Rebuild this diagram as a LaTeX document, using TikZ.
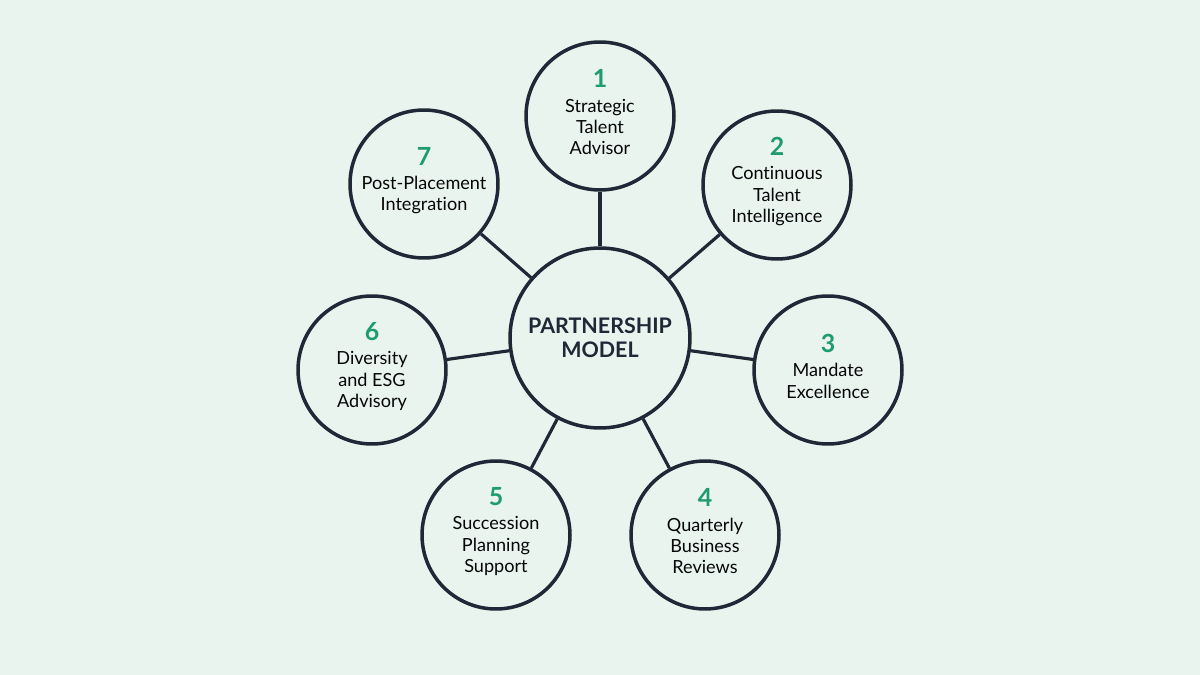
\documentclass[tikz,border=0pt]{standalone}
\usepackage{fontspec}
\setmainfont{Lato}[Ligatures={NoCommon,TeX}]
\definecolor{mint}{RGB}{233,244,239}
\definecolor{ink}{RGB}{30,40,54}
\definecolor{leaf}{RGB}{30,156,110}
\newcommand{\stepnum}[1]{{\fontsize{14.2}{14.2}\selectfont\bfseries\color{leaf}#1}\\[1.6pt]}
\tikzset{
  hub/.style={circle,draw=ink,line width=2pt,fill=mint,minimum size=3.6cm,inner sep=0pt,
    font=\fontsize{12.2}{13.7}\selectfont\bfseries,text=ink,align=center},
  spoke/.style={circle,draw=ink,line width=2pt,fill=mint,minimum size=2.96cm,inner sep=0pt},
  steptext/.style={font=\fontsize{10.3}{12.2}\selectfont,text=black!85!ink,align=center,
    inner sep=0pt,yshift=2pt},
  link/.style={draw=ink,line width=1.8pt}
}
\begin{document}
\begin{tikzpicture}[x=0.02cm,y=-0.02cm]
  \fill[mint] (0,0) rectangle (1200,675);
  \useasboundingbox (0,0) rectangle (1200,675);
  % centre and the seven spokes
  \node[hub] (pm) at (600,338) {PARTNERSHIP\\MODEL};
  \node[spoke,label={[steptext]center:\stepnum{1}Strategic\\Talent\\Advisor}] (s1) at (600,116) {};
  \node[spoke,label={[steptext]center:\stepnum{2}Continuous\\Talent\\Intelligence}] (s2) at (777,185) {};
  \node[spoke,label={[steptext]center:\stepnum{3}Mandate\\Excellence}] (s3) at (828,370) {};
  \node[spoke,label={[steptext]center:\stepnum{4}Quarterly\\Business\\Reviews}] (s4) at (705,535) {};
  \node[spoke,label={[steptext]center:\stepnum{5}Succession\\Planning\\Support}] (s5) at (496,535) {};
  \node[spoke,label={[steptext]center:\stepnum{6}Diversity\\and ESG\\Advisory}] (s6) at (372,370) {};
  \node[spoke,label={[steptext]center:\stepnum{7}Post-Placement\\Integration}] (s7) at (424,184) {};
  \path[link]
    (pm) edge (s1)
         edge (s2)
         edge (s3)
         edge (s4)
         edge (s5)
         edge (s6)
         edge (s7);
\end{tikzpicture}
\end{document}
